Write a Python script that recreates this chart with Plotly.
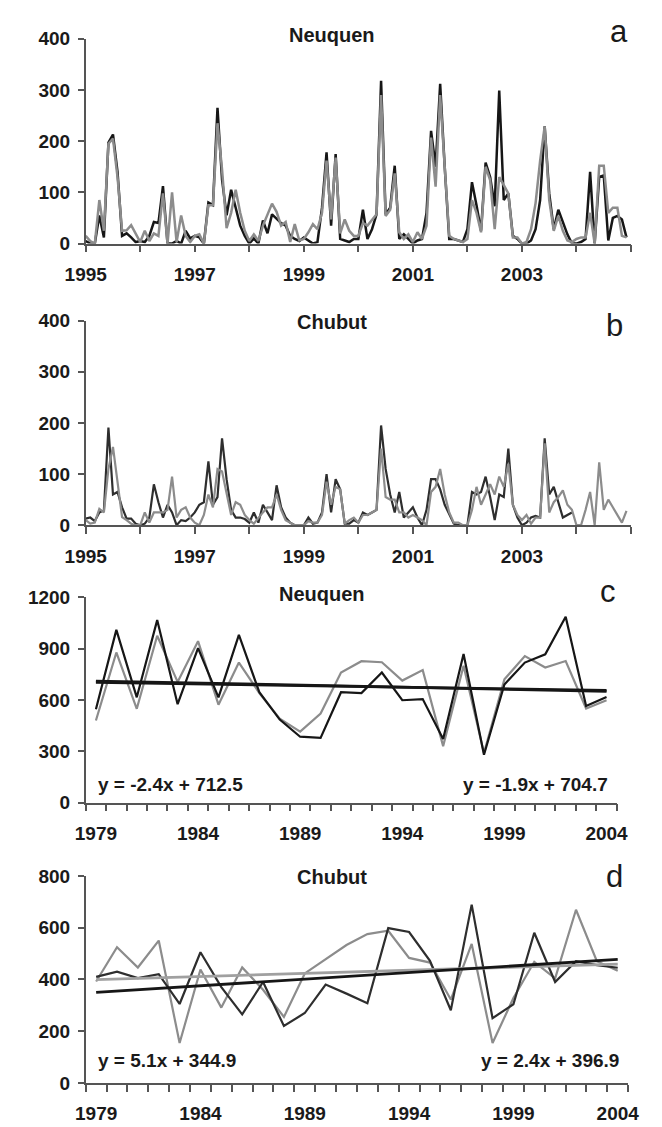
import plotly.graph_objects as go

W, H = 662, 1127

# ---------------- data ----------------
months_a = [1995 + m / 12 for m in range(120)]
years_c = list(range(1979, 2005))

neuquen_m_black = [5, 0, 0, 55, 12, 197, 213, 140, 15, 20, 12, 3,
                   5, 3, 15, 42, 40, 112, 0, 0, 5, 0, 25, 10,
                   15, 12, 0, 80, 75, 265, 125, 55, 105, 70, 35, 15,
                   0, 10, 0, 45, 20, 57, 48, 40, 35, 15, 9, 5,
                   12, 6, 0, 3, 70, 178, 35, 175, 9, 6, 3, 9,
                   9, 66, 9, 28, 57, 318, 57, 70, 152, 9, 18, 9,
                   0, 6, 9, 60, 220, 150, 312, 150, 9, 9, 6, 3,
                   28, 120, 75, 25, 158, 130, 73, 299, 85, 98, 15, 9,
                   0, 0, 6, 28, 85, 229, 98, 28, 66, 41, 18, 0,
                   0, 3, 9, 140, 0, 130, 133, 6, 50, 54, 47, 12]
neuquen_m_gray = [15, 5, 0, 85, 25, 195, 205, 130, 25, 26, 36, 18,
                  3, 25, 5, 20, 15, 98, 0, 100, 3, 55, 15, 3,
                  15, 18, 0, 75, 75, 235, 145, 30, 60, 105, 60, 25,
                  5, 18, 5, 35, 55, 78, 62, 35, 42, 3, 38, 6,
                  9, 22, 38, 28, 60, 162, 47, 168, 20, 47, 25, 15,
                  15, 40, 35, 47, 57, 290, 54, 66, 137, 22, 9, 18,
                  3, 22, 9, 35, 207, 111, 290, 150, 15, 9, 6, 3,
                  9, 85, 60, 22, 150, 124, 28, 130, 114, 98, 12, 12,
                  0, 3, 28, 79, 162, 229, 85, 25, 54, 25, 6, 3,
                  9, 12, 12, 60, 0, 152, 152, 60, 70, 70, 15, 12]

chubut_m_black = [13, 15, 8, 25, 29, 191, 60, 65, 35, 13, 13, 3,
                  0, 3, 15, 80, 45, 15, 40, 25, 0, 10, 8, 15,
                  25, 40, 45, 125, 40, 55, 170, 90, 30, 15, 15, 12,
                  5, 25, 5, 40, 25, 10, 78, 35, 15, 5, 0, 0,
                  0, 15, 3, 5, 25, 100, 25, 90, 70, 3, 3, 10,
                  5, 25, 20, 25, 30, 195, 110, 60, 25, 65, 15, 25,
                  35, 15, 0, 30, 90, 90, 70, 40, 20, 3, 0, 0,
                  0, 65, 60, 65, 95, 55, 10, 60, 55, 150, 40, 15,
                  0, 5, 15, 18, 15, 170, 60, 75, 45, 15, 20, 25,
                  None, None, None, None, None, None, None, None, None, None, None, None]
chubut_m_gray = [10, 3, 5, 32, 25, 110, 153, 80, 16, 10, 3, 0,
                 0, 25, 5, 25, 25, 25, 30, 95, 15, 30, 35, 15,
                 5, 0, 20, 60, 35, 110, 105, 60, 20, 45, 40, 20,
                 10, 3, 15, 25, 35, 35, 60, 30, 10, 5, 0, 0,
                 0, 8, 5, 5, 20, 85, 40, 75, 70, 3, 10, 15,
                 5, 20, 20, 25, 30, 150, 55, 50, 50, 25, 25, 15,
                 20, 15, 10, 0, 65, 75, 110, 60, 25, 5, 5, 0,
                 0, 30, 75, 40, 60, 80, 60, 95, 75, 120, 40, 20,
                 10, 20, 3, 15, 15, 160, 25, 45, 55, 68, 40, 30,
                 0, 0, 30, 65, 0, 123, 30, 50, 35, 20, 5, 28]

neuquen_y_black = [545, 1009, 615, 1066, 575, 902, 615, 980, 645, 485, 385, 378, 645,
                   640, 760, 598, 605, 372, 868, 280, 690, 818, 866, 1085, 565, 617]
neuquen_y_gray = [480, 877, 548, 975, 705, 943, 572, 818, 640, 490, 415, 520, 760,
                  826, 820, 713, 774, 330, 800, 290, 720, 856, 789, 827, 550, 598]
chubut_y_black = [410, 430, 405, 420, 305, 505, 370, 265, 390, 220, 270, 380, 345,
                  308, 598, 583, 472, 281, 689, 250, 304, 580, 390, 470, 455, 445]
chubut_y_gray = [392, 524, 446, 550, 154, 438, 291, 446, 360, 255, 423, 478, 533,
                 575, 588, 483, 465, 322, 537, 154, 328, 468, 404, 669, 470, 433]

trend_c_slope = [-2.4, -1.9]
trend_c_icpt = [712.5, 704.7]
trend_d_slope = [5.1, 2.4]
trend_d_icpt = [344.9, 396.9]
eq_c = ["y = -2.4x + 712.5", "y = -1.9x + 704.7"]
eq_d = ["y = 5.1x + 344.9", "y = 2.4x + 396.9"]

BLACK = "#161616"
DARK = "#2e2e2e"
GRAY = "#8c8c8c"
AXC = "#555555"
FONT = "Liberation Sans, Arial, sans-serif"


def px(x):
    return x / W


def py(y):
    return 1 - y / H


fig = go.Figure()

# Panel a
fig.add_trace(go.Scatter(x=months_a, y=neuquen_m_black, mode="lines",
                         line=dict(color=BLACK, width=2.5), xaxis="x", yaxis="y"))
fig.add_trace(go.Scatter(x=months_a, y=neuquen_m_gray, mode="lines",
                         line=dict(color=GRAY, width=2.5), xaxis="x", yaxis="y"))
# Panel b
fig.add_trace(go.Scatter(x=months_a, y=chubut_m_black, mode="lines",
                         line=dict(color=DARK, width=2.2), xaxis="x2", yaxis="y2"))
fig.add_trace(go.Scatter(x=months_a, y=chubut_m_gray, mode="lines",
                         line=dict(color=GRAY, width=2.2), xaxis="x2", yaxis="y2"))
# Panel c
fig.add_trace(go.Scatter(x=years_c, y=neuquen_y_gray, mode="lines",
                         line=dict(color=GRAY, width=2.2), xaxis="x3", yaxis="y3"))
fig.add_trace(go.Scatter(x=years_c, y=neuquen_y_black, mode="lines",
                         line=dict(color=BLACK, width=2.2), xaxis="x3", yaxis="y3"))
for s, b in zip(trend_c_slope[::-1], trend_c_icpt[::-1]):
    fig.add_trace(go.Scatter(x=years_c, y=[s * (i + 1) + b for i in range(len(years_c))],
                             mode="lines", line=dict(color=BLACK, width=2.8),
                             xaxis="x3", yaxis="y3"))
# Panel d
fig.add_trace(go.Scatter(x=years_c, y=chubut_y_gray, mode="lines",
                         line=dict(color=GRAY, width=2.2), xaxis="x4", yaxis="y4"))
fig.add_trace(go.Scatter(x=years_c, y=chubut_y_black, mode="lines",
                         line=dict(color=DARK, width=2.2), xaxis="x4", yaxis="y4"))
trend_cols = [BLACK, "#a0a0a0"]
for k in [1, 0]:
    s, b = trend_d_slope[k], trend_d_icpt[k]
    fig.add_trace(go.Scatter(x=years_c, y=[s * (i + 1) + b for i in range(len(years_c))],
                             mode="lines", line=dict(color=trend_cols[k], width=2.8),
                             xaxis="x4", yaxis="y4"))

tickfont = dict(family=FONT, size=19, color="#1a1a1a", weight="bold")

common_x = dict(showline=True, linecolor=AXC, linewidth=1.5, showgrid=False, zeroline=False,
                tickfont=tickfont, tickcolor=AXC, tickwidth=1.5, fixedrange=True)
common_y = dict(showline=True, linecolor=AXC, linewidth=1.5, showgrid=False, zeroline=False,
                tickfont=tickfont, tickcolor=AXC, tickwidth=1.5, ticks="outside", ticklen=6,
                ticklabelstandoff=4, fixedrange=True)

yr_vals = list(range(1995, 2006))
yr_text = [str(v) if (v - 1995) % 2 == 0 and v < 2005 else "" for v in yr_vals]

xa = dict(common_x, range=[1995, 2005], tickvals=yr_vals, ticktext=yr_text,
          ticks="outside", ticklen=7, ticklabelstandoff=6)
ann_vals = [1979, 1984, 1989, 1994, 1999, 2004]
xc = dict(common_x, range=[1978.5, 2004.5], tickvals=ann_vals, ticktext=[str(v) for v in ann_vals],
          ticks="outside", ticklen=7, tickcolor="rgba(0,0,0,0)", ticklabelstandoff=6,
          minor=dict(tickmode="linear", tick0=1978.5, dtick=1, ticks="outside", ticklen=7,
                     tickcolor=AXC, tickwidth=1.5, showgrid=False))

fig.update_layout(
    width=W, height=H, margin=dict(l=0, r=0, t=0, b=0),
    paper_bgcolor="white", plot_bgcolor="white", showlegend=False,
    xaxis=dict(xa, domain=[px(68), px(641)], anchor="y"),
    yaxis=dict(common_y, range=[0, 400], tickvals=[0, 100, 200, 300, 400],
               domain=[py(238), py(29.3)], anchor="x"),
    xaxis2=dict(xa, domain=[px(68), px(641)], anchor="y2"),
    yaxis2=dict(common_y, range=[0, 400], tickvals=[0, 100, 200, 300, 400],
                domain=[py(525), py(316.5)], anchor="x2"),
    xaxis3=dict(xc, domain=[px(68), px(626)], anchor="y3"),
    yaxis3=dict(common_y, range=[0, 1200], tickvals=[0, 300, 600, 900, 1200],
                domain=[py(807.7), py(598.3)], anchor="x3"),
    xaxis4=dict(xc, domain=[px(68), px(638)], anchor="y4"),
    yaxis4=dict(common_y, range=[0, 800], tickvals=[0, 200, 400, 600, 800],
                domain=[py(1093.3), py(882.3)], anchor="x4"),
)

titlefont = dict(family=FONT, size=20, color="#1a1a1a", weight="bold")
letterfont = dict(family=FONT, size=31, color="#1a1a1a")
eqfont = dict(family=FONT, size=19, color="#1a1a1a", weight="bold")

anns = []
for txt, x, y in [("Neuquen", 327, 25), ("Chubut", 327, 318), ("Neuquen", 316, 595), ("Chubut", 327, 883)]:
    anns.append(dict(text=txt, x=px(x), y=py(y), xref="paper", yref="paper",
                     xanchor="center", yanchor="middle", showarrow=False, font=titlefont))
for txt, x, y in [("a", 628, 21.5), ("b", 624, 321.5), ("c", 617, 592.5), ("d", 624, 882.5)]:
    anns.append(dict(text=txt, x=px(x), y=py(y), xref="paper", yref="paper",
                     xanchor="center", yanchor="middle", showarrow=False, font=letterfont))
anns.append(dict(text=eq_c[0], x=px(79), y=py(789), xref="paper", yref="paper",
                 xanchor="left", yanchor="middle", showarrow=False, font=eqfont))
anns.append(dict(text=eq_c[1], x=px(619), y=py(789), xref="paper", yref="paper",
                 xanchor="right", yanchor="middle", showarrow=False, font=eqfont))
anns.append(dict(text=eq_d[0], x=px(79), y=py(1070), xref="paper", yref="paper",
                 xanchor="left", yanchor="middle", showarrow=False, font=eqfont))
anns.append(dict(text=eq_d[1], x=px(631), y=py(1070), xref="paper", yref="paper",
                 xanchor="right", yanchor="middle", showarrow=False, font=eqfont))
fig.update_layout(annotations=anns)

fig.write_html("out.html")
